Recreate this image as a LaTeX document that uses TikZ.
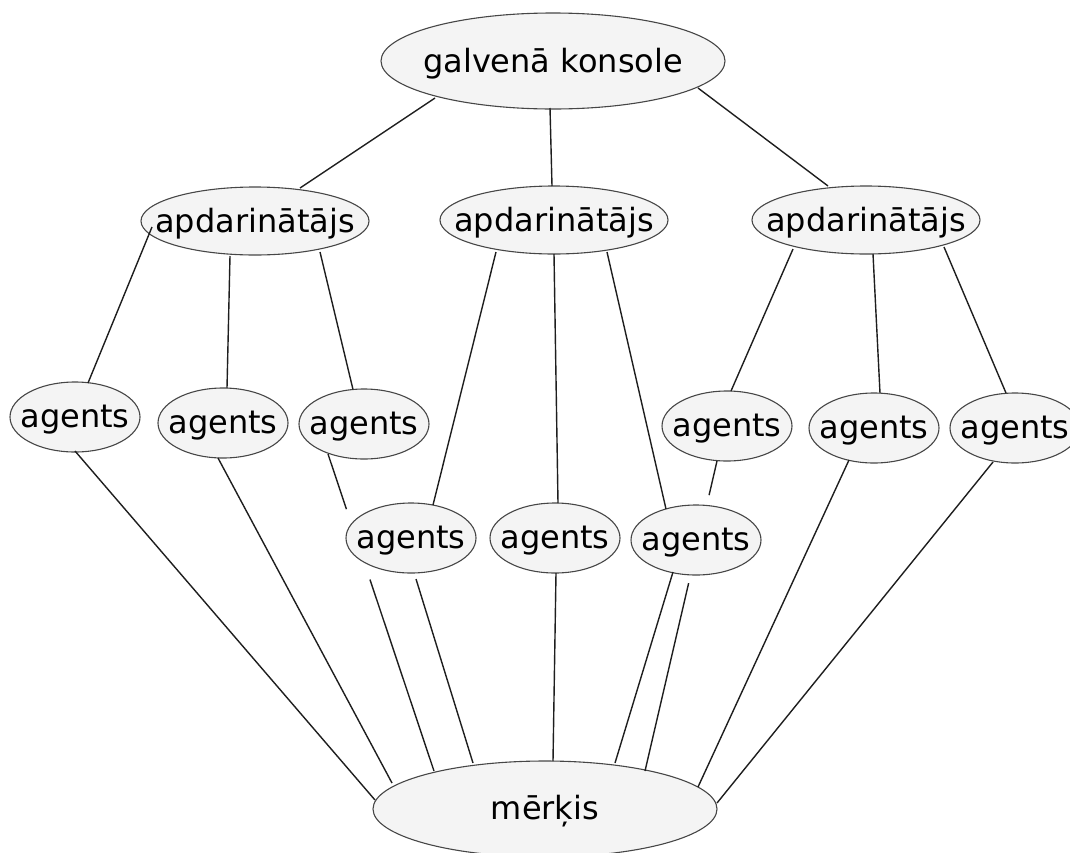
\documentclass[tikz,border=0pt]{standalone}
\usepackage{fontspec}
\setmainfont{DejaVu Sans}
\usetikzlibrary{shapes.geometric,calc}
\definecolor{nodefill}{RGB}{244,244,244}
\definecolor{nodeline}{RGB}{70,70,70}
\definecolor{edgeline}{RGB}{30,30,30}
\tikzset{
  oval/.style={ellipse, draw=nodeline, fill=nodefill, line width=1.1pt, inner sep=0pt,
    label={[font=\fontsize{32}{38}\selectfont, inner sep=0pt, yshift=-2.5pt]center:#1}},
  big/.style={oval=#1, minimum width=344pt, minimum height=96pt},
  mid/.style={oval=#1, minimum width=228pt, minimum height=68pt},
  small/.style={oval=#1, minimum width=130pt, minimum height=70pt},
  edge/.style={draw=edgeline, line width=1.4pt}
}
\begin{document}
\begin{tikzpicture}[x=1pt,y=-1pt]
\useasboundingbox (0,0) rectangle (1070,852);
% nodes
\node[big=galvenā konsole] (g) at (553,61) {};
\node[mid=apdarinātājs] (p1) at (255,221) {};
\node[mid=apdarinātājs] (p2) at (554,220) {};
\node[mid=apdarinātājs] (p3) at (866,220) {};
\node[small=agents] (a1) at (75,417) {};
\node[small=agents] (a2) at (223,423) {};
\node[small=agents] (a3) at (364,424) {};
\node[small=agents] (a4) at (411,538) {};
\node[small=agents] (a5) at (555,538) {};
\node[small=agents] (a6) at (696,540) {};
\node[small=agents] (a7) at (727,426) {};
\node[small=agents] (a8) at (874,428) {};
\node[small=agents] (a9) at (1015,428) {};
\node[big=mērķis] (m) at (545,809) {};
% top edges
\draw[edge] ($(g)+(-118,37)$) -- ($(p1)+(45,-33)$);
\draw[edge] ($(g)+(-3,47)$) -- ($(p2)+(-2,-34)$);
\draw[edge] ($(g)+(145,27)$) -- ($(p3)+(-38,-34)$);
% handler to agents
\draw[edge] ($(p1)+(-103,6)$) -- ($(a1)+(13,-34)$);
\draw[edge] ($(p1)+(-25,35)$) -- ($(a2)+(4,-35)$);
\draw[edge] ($(p1)+(65,31)$) -- ($(a3)+(-11,-34.5)$);
\draw[edge] ($(p2)+(-58,32)$) -- ($(a4)+(22,-33)$);
\draw[edge] ($(p2)+(0,34)$) -- ($(a5)+(3,-35)$);
\draw[edge] ($(p2)+(53,32)$) -- ($(a6)+(-30,-31)$);
\draw[edge] ($(p3)+(-73,29)$) -- ($(a7)+(4,-35)$);
\draw[edge] ($(p3)+(7,34)$) -- ($(a8)+(6,-35)$);
\draw[edge] ($(p3)+(78,27)$) -- ($(a9)+(-9,-35)$);
% agents to target
\draw[edge] ($(a1)+(0,34)$) -- ($(m)+(-170,-9)$);
\draw[edge] ($(a2)+(-5,35)$) -- ($(m)+(-153,-26)$);
\coordinate (s3) at ($(a3)+(-36,30)$);
\coordinate (e3) at ($(m)+(-111,-38)$);
\draw[edge] (s3) -- ($(s3)!0.174!(e3)$);
\draw[edge] ($(s3)!0.396!(e3)$) -- (e3);
\draw[edge] ($(a4)+(5,41)$) -- ($(m)+(-72,-46)$);
\draw[edge] ($(a5)+(1,35)$) -- ($(m)+(8,-48)$);
\draw[edge] ($(a6)+(-23,32)$) -- ($(m)+(70,-46)$);
\coordinate (s7) at ($(a7)+(-10,35)$);
\coordinate (e7) at ($(m)+(100,-38)$);
\draw[edge] (s7) -- ($(s7)!0.11!(e7)$);
\draw[edge] ($(s7)!0.394!(e7)$) -- (e7);
\draw[edge] ($(a8)+(-25,32)$) -- ($(m)+(153,-22)$);
\draw[edge] ($(a9)+(-22,34)$) -- ($(m)+(172,-6)$);
\end{tikzpicture}
\end{document}
